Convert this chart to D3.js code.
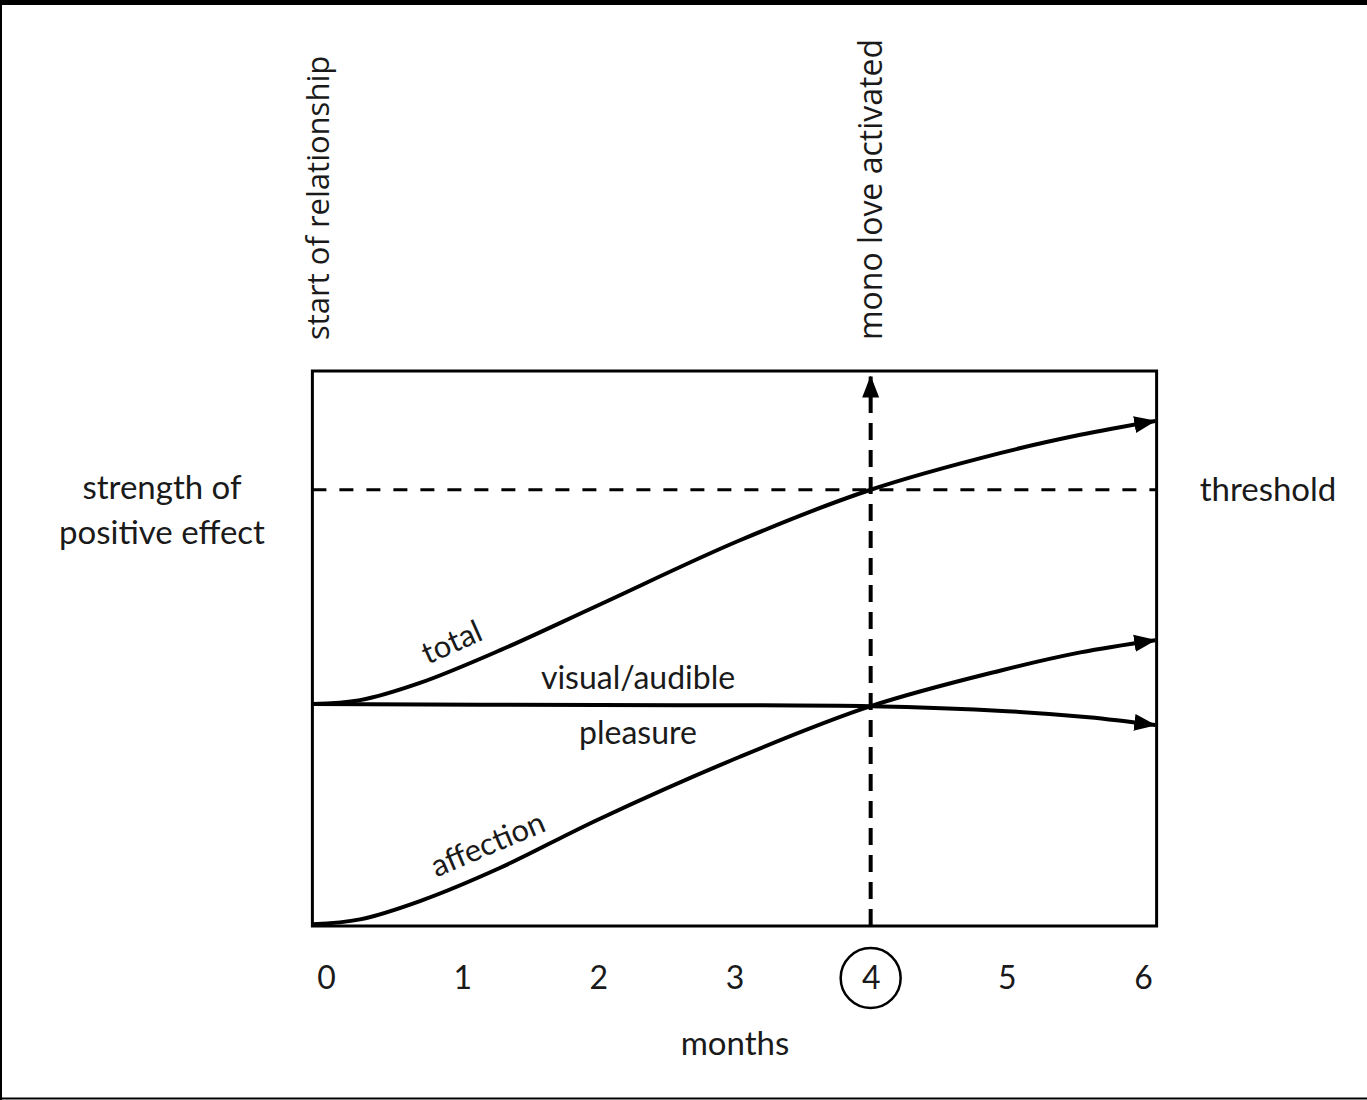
<!DOCTYPE html>
<html>
<head>
<meta charset="utf-8">
<script src="https://cdn.jsdelivr.net/npm/d3@7"></script>
<style>
  body { margin: 0; background: #fff; }
  svg { display: block; }
  .lbl { font-family: Lato, "Open Sans", sans-serif; fill: #1a1a1a; }
  .rot { font-family: "Open Sans", sans-serif; fill: #1a1a1a; }
</style>
</head>
<body>
<div id="chart"></div>
<script>
// months on the x axis
var months = [0, 1, 2, 3, 4, 5, 6];
var monthLabels = ["0", "1", "2", "3", "4", "5", "6"];

// curves: [month, strength]
var totalPts = [[-0.1, 4.0], [0.25, 4.07], [0.69, 4.38], [1.28, 4.97], [2.0, 5.78], [3.04, 6.95], [4.0, 7.86], [4.95, 8.52], [5.54, 8.85], [6.09, 9.1]];
var affectionPts = [[-0.1, 0.03], [0.25, 0.12], [0.69, 0.45], [1.28, 1.05], [2.0, 1.92], [3.04, 3.05], [4.0, 3.96], [4.95, 4.6], [5.54, 4.93], [6.09, 5.15]];
var pleasurePts = [[-0.1, 4.0], [2.0, 3.98], [4.0, 3.96], [5.0, 3.87], [5.6, 3.76], [6.09, 3.62]];

var threshold = 7.86;
var activatedMonth = 4;

var width = 1367, height = 1100;

var svg = d3.select("#chart").append("svg")
    .attr("width", width)
    .attr("height", height);

// outer border bits
svg.append("rect").attr("x", 0).attr("y", 0).attr("width", width).attr("height", 5).attr("fill", "#000");
svg.append("line").attr("x1", 1).attr("x2", 1).attr("y1", 0).attr("y2", height).attr("stroke", "#000").attr("stroke-width", 2);
svg.append("line").attr("x1", 0).attr("x2", width).attr("y1", 1098.5).attr("y2", 1098.5).attr("stroke", "#000").attr("stroke-width", 2);

var x = d3.scaleLinear().domain([0, 6]).range([326, 1143]);
var y = d3.scaleLinear().domain([0, 10]).range([926, 371]);

var defs = svg.append("defs");
defs.append("marker")
    .attr("id", "arrow")
    .attr("markerUnits", "userSpaceOnUse")
    .attr("viewBox", "0 -9 22 18")
    .attr("refX", 21).attr("refY", 0)
    .attr("markerWidth", 22).attr("markerHeight", 18)
    .attr("orient", "auto")
    .append("path")
    .attr("d", "M0,-8.5L22,0L0,8.5Z")
    .attr("fill", "#000");

// frame
var x0 = x(-0.1), x1 = x(6.1);
svg.append("rect")
    .attr("x", x0).attr("y", y(10))
    .attr("width", x1 - x0).attr("height", y(0) - y(10))
    .attr("fill", "none").attr("stroke", "#000").attr("stroke-width", 3);

// threshold dashed line
svg.append("line")
    .attr("x1", x0).attr("x2", x1)
    .attr("y1", y(threshold)).attr("y2", y(threshold))
    .attr("stroke", "#000").attr("stroke-width", 2.8)
    .attr("stroke-dasharray", "14,13");

// vertical dashed arrow at month 4
svg.append("line")
    .attr("x1", x(activatedMonth)).attr("x2", x(activatedMonth))
    .attr("y1", y(0)).attr("y2", y(9.9))
    .attr("stroke", "#000").attr("stroke-width", 4)
    .attr("stroke-dasharray", "17,10")
    .attr("marker-end", "url(#arrow)");

var line = d3.line()
    .x(function (d) { return x(d[0]); })
    .y(function (d) { return y(d[1]); })
    .curve(d3.curveCatmullRom.alpha(0.5));

[totalPts, affectionPts, pleasurePts].forEach(function (pts) {
    svg.append("path")
        .datum(pts)
        .attr("d", line)
        .attr("fill", "none")
        .attr("stroke", "#000")
        .attr("stroke-width", 4)
        .attr("marker-end", "url(#arrow)");
});

// x axis labels
var axis = svg.append("g")
    .attr("transform", "translate(0," + (y(0) + 52) + ")")
    .call(d3.axisBottom(x).tickValues(months).tickSize(0).tickFormat(function (d, i) { return monthLabels[i]; }));
axis.select(".domain").remove();
axis.selectAll("text")
    .attr("class", "lbl")
    .attr("dy", "0.35em")
    .attr("y", 0)
    .style("font-size", "32px")
    .attr("fill", "#1a1a1a");

svg.append("circle")
    .attr("cx", x(activatedMonth)).attr("cy", y(0) + 52)
    .attr("r", 30)
    .attr("fill", "none").attr("stroke", "#000").attr("stroke-width", 2.5);

svg.append("text").attr("class", "lbl")
    .attr("x", 735).attr("y", 1055)
    .attr("text-anchor", "middle").style("font-size", "33px")
    .text("months");

// y label
svg.append("text").attr("class", "lbl")
    .attr("x", 162).attr("y", 499)
    .attr("text-anchor", "middle").style("font-size", "33px")
    .text("strength of");
svg.append("text").attr("class", "lbl")
    .attr("x", 162).attr("y", 544)
    .attr("text-anchor", "middle").style("font-size", "33px")
    .text("positive effect");

svg.append("text").attr("class", "lbl")
    .attr("x", 1268).attr("y", y(threshold) + 11)
    .attr("text-anchor", "middle").style("font-size", "33px")
    .text("threshold");

// rotated top labels
svg.append("text").attr("class", "rot")
    .attr("transform", "translate(" + (x(0) + 3) + ",340) rotate(-90)")
    .style("font-size", "31px")
    .text("start of relationship");
svg.append("text").attr("class", "rot")
    .attr("transform", "translate(" + (x(activatedMonth) + 11) + ",340) rotate(-90)")
    .style("font-size", "32px")
    .text("mono love activated");

// curve labels
svg.append("text").attr("class", "lbl")
    .attr("transform", "translate(456,652) rotate(-24)")
    .attr("text-anchor", "middle").style("font-size", "31px")
    .text("total");
svg.append("text").attr("class", "lbl")
    .attr("x", 638).attr("y", 689)
    .attr("text-anchor", "middle").style("font-size", "32px")
    .text("visual/audible");
svg.append("text").attr("class", "lbl")
    .attr("x", 638).attr("y", 744)
    .attr("text-anchor", "middle").style("font-size", "32px")
    .text("pleasure");
svg.append("text").attr("class", "lbl")
    .attr("transform", "translate(492,854) rotate(-23)")
    .attr("text-anchor", "middle").style("font-size", "31px")
    .text("affection");
</script>
</body>
</html>
